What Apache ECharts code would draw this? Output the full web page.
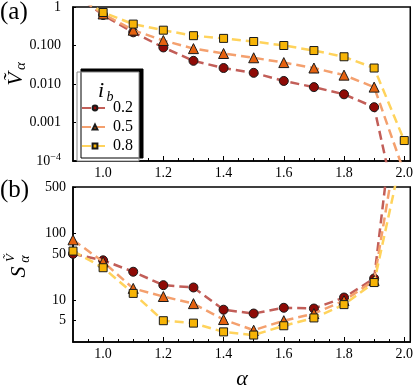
<!DOCTYPE html>
<html><head><meta charset="utf-8">
<script src="https://cdn.jsdelivr.net/npm/echarts@6/dist/echarts.min.js"></script>
<style>html,body{margin:0;padding:0;background:#fff}#c{width:416px;height:388px}</style>
</head><body><div id="c"></div>
<script>
// ---- data ----
const alphaA = [0.9, 1.0, 1.1, 1.2, 1.3, 1.4, 1.5, 1.6, 1.7, 1.8, 1.9, 2.0];
const vIb02 = [2.3, 0.62, 0.22, 0.089, 0.040, 0.026, 0.0195, 0.012, 0.0083, 0.0054, 0.0025, 7e-7];
const vIb05 = [2.3, 0.66, 0.25, 0.135, 0.083, 0.062, 0.048, 0.036, 0.026, 0.017, 0.0083, 5e-5];
const vIb08 = [2.3, 0.72, 0.36, 0.25, 0.18, 0.153, 0.127, 0.10, 0.074, 0.051, 0.026, 0.00034];

const alphaB = [0.9, 1.0, 1.1, 1.2, 1.3, 1.4, 1.5, 1.6, 1.7, 1.8, 1.9, 2.0];
const sIb02 = [50, 40, 27, 17, 15.7, 7.3, 6.4, 7.8, 7.6, 11.1, 21.4, 130000];
const sIb05 = [81, 38, 15.2, 11.5, 9.0, 5.2, 3.6, 5.0, 6.4, 10, 20, 10000];
const sIb08 = [55, 31, 12.8, 5.0, 4.6, 3.4, 3.05, 4.2, 5.5, 8.7, 18.6, 2200];

const ibNames = ['0.2', '0.5', '0.8'];
const xMajor = [1.0, 1.2, 1.4, 1.6, 1.8, 2.0];
const xMinor = [0.95, 1.0, 1.05, 1.1, 1.15, 1.2, 1.25, 1.3, 1.35, 1.4, 1.45, 1.5, 1.55, 1.6, 1.65, 1.7, 1.75, 1.8, 1.85, 1.9, 1.95, 2.0];
const yTicksB = [5, 10, 50, 100, 500];
const yLabelsA = {'0': '1', '-1': '0.100', '-2': '0.010', '-3': '0.001'};

// ---- styles ----
const lineColors = ['#c25e58', '#f4a06e', '#ffd35c'];
const fillColors = ['#8e0a06', '#e5620f', '#f7b406'];
const symbols = ['circle', 'triangle', 'rect'];
const symSizes = [9, 10, 8];
const SERIF = "'Liberation Serif', 'Times New Roman', serif";

function pairs(xs, ys) { return xs.map((x, i) => [x, ys[i]]); }

const chart = echarts.init(document.getElementById('c'), null, {renderer: 'canvas'});

const grids = [
  {left: 73, top: 7, width: 340, height: 154, show: true, borderColor: '#000', borderWidth: 1.5, backgroundColor: 'transparent'},
  {left: 73, top: 187, width: 340, height: 155, show: true, borderColor: '#000', borderWidth: 1.5, backgroundColor: 'transparent'}
];

function xAxes(gi) {
  return [
    {type: 'value', gridIndex: gi, min: 0.9, max: 2.02, position: 'bottom',
     axisLine: {lineStyle: {color: '#000', width: 1.5}},
     axisTick: {inside: true, length: 5, customValues: xMajor, lineStyle: {color: '#000', width: 1}},
     axisLabel: {customValues: xMajor, formatter: v => v.toFixed(1), color: '#000', fontFamily: SERIF, fontSize: 14, margin: 5},
     splitLine: {show: false}},
    {type: 'value', gridIndex: gi, min: 0.9, max: 2.02, position: 'bottom',
     axisLine: {show: false},
     axisTick: {inside: true, length: 3, customValues: xMinor, lineStyle: {color: '#000', width: 1}},
     axisLabel: {show: false}, splitLine: {show: false}}
  ];
}

const option = {
  animation: false,
  backgroundColor: '#fff',
  textStyle: {fontFamily: SERIF},
  grid: grids,
  xAxis: [...xAxes(0), ...xAxes(1)],
  yAxis: [
    {type: 'log', gridIndex: 0, min: 1e-4, max: 1, logBase: 10,
     axisLine: {lineStyle: {color: '#000', width: 1.5}},
     axisTick: {inside: true, length: 3, lineStyle: {color: '#000'}},
     splitLine: {show: false},
     axisLabel: {color: '#000', fontFamily: SERIF, fontSize: 14, margin: 12,
       formatter: v => { const e = Math.round(Math.log10(v)); return e <= -4 ? '{b|10}{e|−4}' : yLabelsA[String(e)]; },
       rich: {b: {fontFamily: SERIF, fontSize: 14, color: '#000'}, e: {fontFamily: SERIF, fontSize: 10, color: '#000', padding: [0, 0, 7, 0]}}}},
    {type: 'log', gridIndex: 1, min: 2.4, max: 500, logBase: 10,
     axisLine: {lineStyle: {color: '#000', width: 1.5}},
     axisTick: {inside: true, length: 3, customValues: yTicksB, lineStyle: {color: '#000'}},
     splitLine: {show: false},
     axisLabel: {customValues: yTicksB, color: '#000', fontFamily: SERIF, fontSize: 14, margin: 7, formatter: v => String(Math.round(v))}}
  ],
  legend: {
    orient: 'vertical', left: 77, top: 72,
    data: ibNames,
    padding: [28, 6, 7, 4], itemGap: 3, itemWidth: 26, itemHeight: 6,
    backgroundColor: '#fff', borderColor: '#888', borderWidth: 1,
    shadowColor: '#000', shadowBlur: 0, shadowOffsetX: 4, shadowOffsetY: -3,
    textStyle: {fontFamily: SERIF, fontSize: 16, color: '#000', lineHeight: 15},
    selectedMode: false
  },
  graphic: [
    {type: 'text', left: 0, top: 0, z: 100, style: {text: '(a)', font: '25px ' + SERIF, fill: '#000'}},
    {type: 'text', left: 0, top: 178, z: 100, style: {text: '(b)', font: '25px ' + SERIF, fill: '#000'}},
    {type: 'text', x: 101, y: 91, z: 100, style: {text: 'i', font: 'italic 22px ' + SERIF, fill: '#000', align: 'center', verticalAlign: 'middle'}},
    {type: 'text', x: 110, y: 97, z: 100, style: {text: 'b', font: 'italic 14px ' + SERIF, fill: '#000', align: 'center', verticalAlign: 'middle'}},
    // y-title (a): V~ alpha
    {type: 'text', x: 16, y: 79, rotation: Math.PI / 2, z: 100, style: {text: 'Ṽ', font: 'italic 22px ' + SERIF, fill: '#000', align: 'center', verticalAlign: 'middle'}},
    {type: 'text', x: 21, y: 66, rotation: Math.PI / 2, z: 100, style: {text: 'α', font: 'italic 15px ' + SERIF, fill: '#000', align: 'center', verticalAlign: 'middle'}},
    // y-title (b): S^V~_alpha
    {type: 'text', x: 19, y: 272, rotation: Math.PI / 2, z: 100, style: {text: 'S', font: 'italic 22px ' + SERIF, fill: '#000', align: 'center', verticalAlign: 'middle'}},
    {type: 'text', x: 11, y: 258, rotation: Math.PI / 2, z: 100, style: {text: 'Ṽ', font: 'italic 13px ' + SERIF, fill: '#000', align: 'center', verticalAlign: 'middle'}},
    {type: 'text', x: 25, y: 259, rotation: Math.PI / 2, z: 100, style: {text: 'α', font: 'italic 14px ' + SERIF, fill: '#000', align: 'center', verticalAlign: 'middle'}},
    // x title
    {type: 'text', x: 242, y: 379, z: 100, style: {text: 'α', font: 'italic 22px ' + SERIF, fill: '#000', align: 'center', verticalAlign: 'middle'}}
  ],
  series: []
};

const dataA = [vIb02, vIb05, vIb08];
const dataB = [sIb02, sIb05, sIb08];
[0, 1].forEach(p => {
  const xs = p === 0 ? alphaA : alphaB;
  const ds = p === 0 ? dataA : dataB;
  ds.forEach((ys, k) => {
    option.series.push({
      name: ibNames[k], type: 'line', xAxisIndex: p * 2, yAxisIndex: p,
      data: pairs(xs, ys), clip: true,
      symbol: symbols[k], symbolSize: symSizes[k], showAllSymbol: true,
      lineStyle: {color: lineColors[k], width: 2.5, type: [9, 5]},
      itemStyle: {color: fillColors[k], borderColor: '#1a1a1a', borderWidth: 1},
      z: 2 + k
    });
  });
});

chart.setOption(option);
</script></body></html>
